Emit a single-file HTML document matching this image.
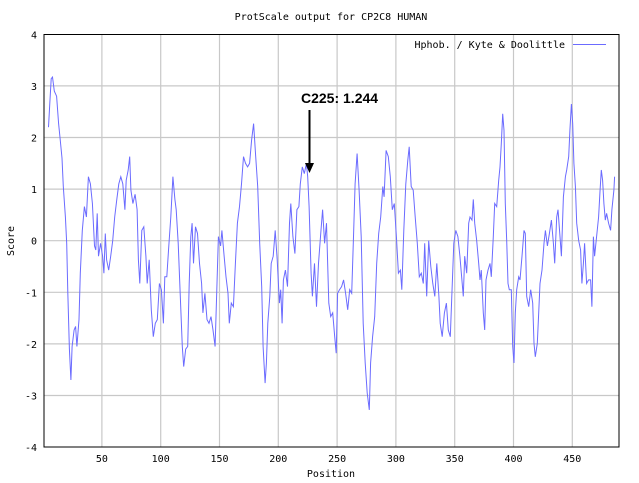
<!DOCTYPE html>
<html><head><meta charset="utf-8"><style>
body{margin:0;background:#fff;width:639px;height:483px;overflow:hidden}
svg{display:block}
text{font-family:"DejaVu Sans Mono","Liberation Mono",monospace;font-size:10px;fill:#000}
</style></head><body>
<svg id="chart" width="639" height="483" viewBox="0 0 639 483">
<g id="grid"></g>
<rect x="44" y="34.5" width="575" height="412.5" fill="none" stroke="#000" stroke-width="1"/>
<g id="ticks"></g>
<text x="331" y="20" text-anchor="middle">ProtScale output for CP2C8 HUMAN</text>
<text x="331" y="477" text-anchor="middle">Position</text>
<text x="14" y="241" text-anchor="middle" transform="rotate(-90 14 241)">Score</text>
<text x="565" y="48" text-anchor="end">Hphob. / Kyte &amp; Doolittle</text>
<line x1="573" y1="44.5" x2="606" y2="44.5" stroke="#6b6bff" stroke-width="1"/>
<polyline id="series" fill="none" stroke="#6b6bff" stroke-width="1"/>
<text x="301" y="103" style="font-family:'Liberation Sans',sans-serif;font-weight:bold;font-size:14px">C225: 1.244</text>
<line x1="309.5" y1="110" x2="309.5" y2="165" stroke="#000" stroke-width="2"/>
<polygon points="305,163 314,163 309.5,173" fill="#000"/>
</svg>
<script>
const positions=[4.6,5.7,6.9,8,9.5,11.5,13.2,14.4,16.1,17.2,19,20.1,21,22.4,23.6,24.7,26.4,27.6,28.7,30.5,31.6,33.3,35.1,36.8,38.5,40.2,41.9,43.7,44.8,46,47.1,48.9,50.6,51.7,52.9,54,55.8,57.5,59.2,60.9,62.7,64.4,66.1,67.8,69.6,70.7,72.4,73.6,74.7,76.4,78.2,79.9,81,82.2,83.9,85.6,87.4,88.5,90.2,92,93.7,95.4,97.1,98.9,100.6,102.3,103.5,105.2,106.9,108.6,110.4,112.1,113.2,114.9,116.7,118.4,119.6,121.3,123,
124.2,125.6,126.7,127.9,129.6,131.3,133,134.8,135.9,137.6,139.4,141.1,142.8,144.5,146.3,147.4,149.1,150.9,152,153.7,155.5,157.2,158.3,160,161.8,163.5,165.2,167,168.7,170.4,172.1,173.9,175.6,177.3,179,180.8,182.5,184.2,185.9,187.1,188.8,189.9,191.1,192.8,194,195.7,197.4,199.1,200.9,202,203.2,204.3,206,207.8,209.5,210.6,212.4,214.1,215.8,217.5,218.7,220.4,222.1,223.9,225,226.2,227.9,229,230.8,232.5,234.2,235.9,237.7,239.4,
241,242.9,244.6,246.3,248,249.2,250.4,252,253.8,255.5,257.2,259,260.7,262.4,264.1,265.3,267,268.7,270.5,272.2,273.9,275.6,277.4,278.5,280.2,282,283.7,285.4,287.1,288.9,290,291.7,293.5,295.2,296.9,298.6,300.4,302.1,303.8,305,306.7,308.4,310.1,311.3,313,314.7,316.4,318.2,319.9,321.6,323.3,324.5,326.2,327.9,329.7,331.4,333.1,334.8,336.6,337.7,339.4,341.2,342.9,344.6,346.3,347.5,349.2,350.9,352.7,354.4,
357.3,358.5,360.2,361.9,363,364.7,365.8,367,368.7,370.4,371.5,372.6,374.3,375.5,376.6,378.3,380,381.1,382.8,384,385.7,387.4,388.5,389.6,390.8,391.9,393,394.2,395.3,396.4,398.1,399.3,400.4,401.5,402.7,404.4,405.5,407.2,408.9,410,411.2,412.9,414.6,416.3,417.4,418.5,420.2,421.4,422.5,424.2,425.9,427.1,428.8,430.5,432.2,433.9,435,436.7,437.8,439.5,440.7,442.4,444.1,445.2,446.9,448,449.2,450.3,451.4,452.6,453.7,455.4,457.1,458.2,459.4,460.5,462.2,463.9,465.6,466.7,467.9,469,470.7,472.4,473.5,474.7,475.8,476.9,478.1,479.2,480.9,482.6,483.7,485.4,486];
const scores=[2.2,2.66,3.14,3.17,2.9,2.8,2.27,2.0,1.6,1.05,0.46,-0.05,-1.0,-2.1,-2.7,-2.05,-1.73,-1.66,-2.05,-1.53,-0.63,0.2,0.66,0.46,1.24,1.1,0.72,-0.1,-0.18,0.53,-0.3,-0.05,-0.3,-0.63,0.14,-0.37,-0.57,-0.3,0,0.46,0.8,1.1,1.24,1.1,0.6,1.17,1.37,1.63,0.98,0.72,0.9,0.6,-0.37,-0.83,0.2,0.27,-0.3,-0.83,-0.37,-1.34,-1.86,-1.6,-1.53,-0.83,-0.95,-1.6,-0.7,-0.7,-0.1,0.46,1.24,0.8,0.6,-0.05,-1.08,-2.05,-2.44,-2.1,-2.05,
-0.83,0.08,0.34,-0.44,0.27,0.14,-0.44,-0.83,-1.4,-1.02,-1.53,-1.6,-1.47,-1.73,-2.05,-1.21,0.08,-0.1,0.2,-0.25,-0.7,-1.02,-1.6,-1.21,-1.28,-0.44,0.34,0.66,1.1,1.63,1.5,1.43,1.5,1.95,2.27,1.63,1.05,-0.05,-0.89,-2.05,-2.76,-2.37,-1.6,-1.08,-0.44,-0.3,0.2,-0.37,-1.21,-0.95,-1.6,-0.76,-0.57,-0.89,0.34,0.72,0.08,-0.25,0.6,0.66,1.1,1.43,1.3,1.5,1.24,0.66,-0.63,-1.08,-0.44,-1.28,-0.44,0.08,0.6,-0.05,
0.34,-1.21,-1.47,-1.4,-1.86,-2.18,-1.02,-0.95,-0.89,-0.76,-1.02,-1.34,-0.95,-1.02,0.2,1.1,1.69,0.98,0.08,-1.6,-2.37,-2.95,-3.28,-2.37,-1.86,-1.47,-0.44,0.14,0.46,1.05,0.85,1.75,1.63,1.24,0.6,0.72,0.08,-0.63,-0.57,-0.95,0.2,1.1,1.56,1.82,1.05,0.98,0.46,-0.05,-0.7,-0.63,-0.83,-0.05,-1.08,0,-0.5,-0.83,-1.08,-0.44,-1.08,-1.6,-1.86,-1.4,-1.21,-1.73,-1.86,-1.08,-0.05,0.2,0.08,-0.3,
-1.08,-0.3,-0.63,0.34,0.46,0.4,0.8,0.34,0,-0.44,-0.76,-0.57,-1.4,-1.73,-0.76,-0.57,-0.44,-0.7,0.08,0.72,0.66,1.17,1.43,1.88,2.46,2.14,0.72,0,-0.83,-0.95,-0.95,-2.05,-2.37,-1.4,-0.95,-0.7,-0.76,-0.3,0.2,0.14,-1.08,-1.28,-0.95,-1.21,-1.99,-2.25,-1.99,-1.4,-0.83,-0.57,-0.05,0.2,-0.1,0.14,0.4,-0.05,-0.44,0.46,0.6,0.08,-0.3,0.85,1.24,1.37,1.63,2.14,2.65,2.27,1.5,1.05,0.34,0,-0.18,-0.83,-0.44,-0.05,-0.83,-0.76,-0.76,-1.28,0.08,-0.3,0.08,0.46,0.92,1.37,1.17,0.72,0.4,0.53,0.34,0.2,0.6,0.98,1.24];
const xTicks=[50,100,150,200,250,300,350,400,450];
const yTicks=[-4,-3,-2,-1,0,1,2,3,4];
const X0=43.1,XS=1.176,Y0=240.7,YS=51.6;
const xs=p=>X0+p*XS, ys=v=>Y0-v*YS;
const NS='http://www.w3.org/2000/svg';
const grid=document.getElementById('grid'),ticks=document.getElementById('ticks');
function mk(parent,tag,attrs){const e=document.createElementNS(NS,tag);for(const k in attrs)e.setAttribute(k,attrs[k]);parent.appendChild(e);return e;}
xTicks.forEach(t=>{
 const g=mk(grid,'line',{x1:xs(t),x2:xs(t),y1:34.5,y2:447,stroke:'#c8c8c8','stroke-width':1.2});
 
 
 const l=mk(ticks,'text',{x:xs(t),y:462,'text-anchor':'middle'});l.textContent=t;
 
 
});
yTicks.forEach(t=>{
 if(t>-4&&t<4){const g=mk(grid,'line',{x1:44,x2:619,y1:ys(t),y2:ys(t),stroke:'#c8c8c8','stroke-width':1.2});
 
 }
 const l=mk(ticks,'text',{x:37,y:ys(t)+4,'text-anchor':'end'});l.textContent=t;
 
 
});
document.getElementById('series').setAttribute('points',positions.map((p,i)=>xs(p).toFixed(1)+','+ys(scores[i]).toFixed(1)).join(' '));
</script>
</body></html>
